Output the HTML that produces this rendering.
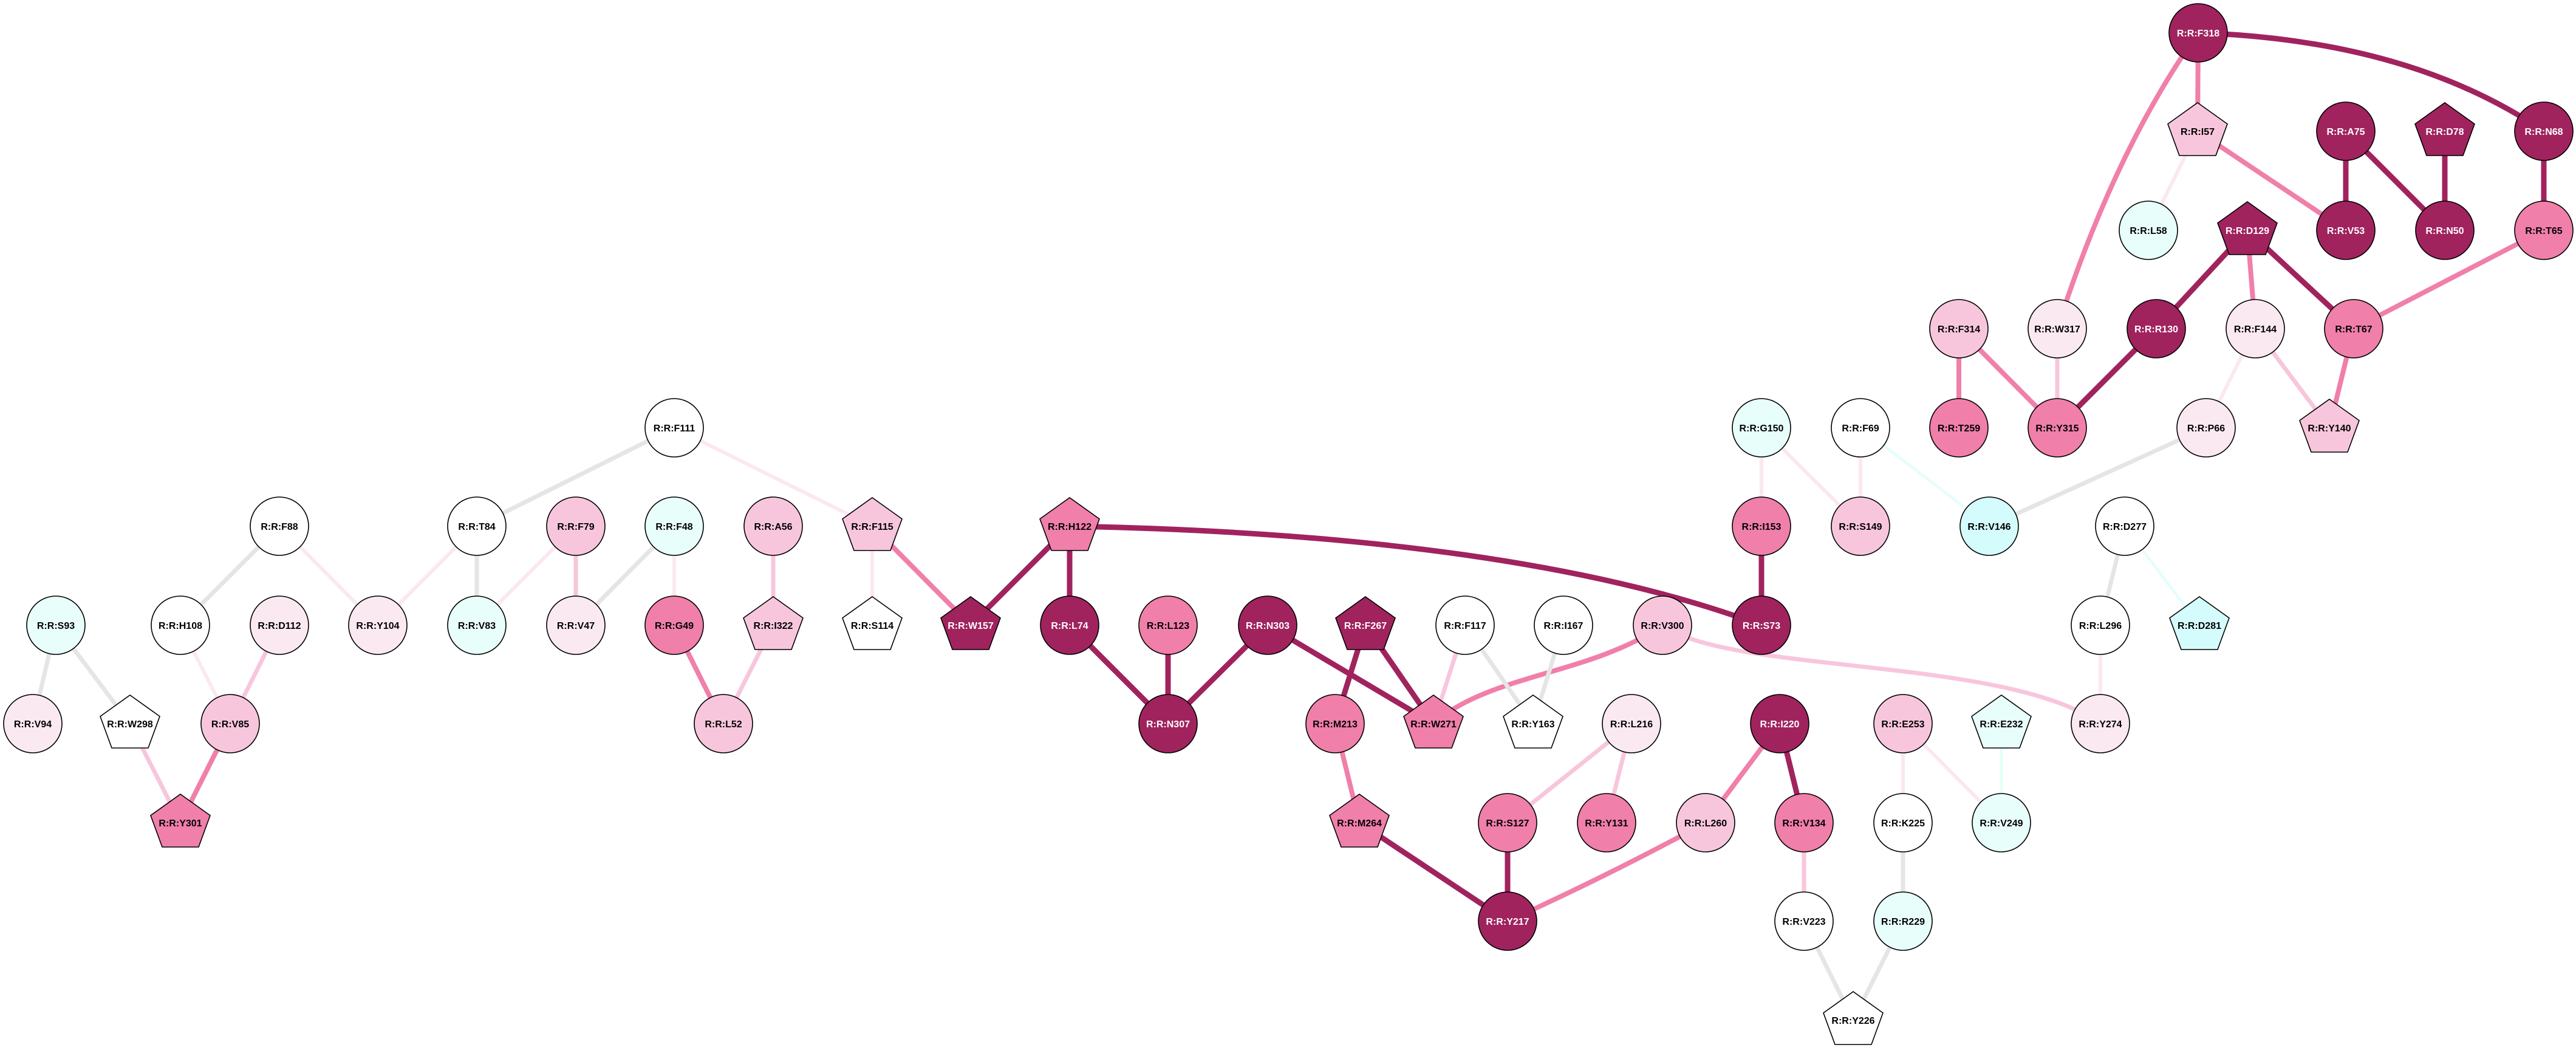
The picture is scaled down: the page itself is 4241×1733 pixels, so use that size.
<!DOCTYPE html>
<html><head><meta charset="utf-8">
<style>
html,body{margin:0;padding:0;background:#fff;}
svg{display:block;}
text{font-family:"Liberation Sans",Arial,sans-serif;font-weight:bold;font-size:16px;text-anchor:middle;fill:#000;}
text.w{fill:#fff;}
.n{stroke:#000;stroke-width:1.6;}
.ed{stroke:#A0235E;stroke-width:9;fill:none;}
.em{stroke:#F07FAA;stroke-width:8;fill:none;}
.el{stroke:#F8C6DC;stroke-width:7;fill:none;}
.ev{stroke:#FBE8F1;stroke-width:6;fill:none;}
.eg{stroke:#E5E5E5;stroke-width:7;fill:none;}
.ec{stroke:#E6FEFB;stroke-width:5;fill:none;}
</style></head><body>
<svg width="4241" height="1733" viewBox="0 0 4241 1733" xmlns="http://www.w3.org/2000/svg">
<defs><polygon id="p" points="0,-47 49,-12 30,40 -30,40 -49,-12"/></defs>
<g>
<line class="em" x1="3619" y1="54" x2="3618" y2="216"/>
<path class="em" d="M3619,54 Q3480,250 3387,541"/>
<path class="ed" d="M3619,54 Q3968,66 4188,216"/>
<line class="ev" x1="3618" y1="216" x2="3537" y2="379"/>
<line class="em" x1="3618" y1="216" x2="3862" y2="379"/>
<line class="ed" x1="3862" y1="216" x2="3862" y2="379"/>
<line class="ed" x1="3862" y1="216" x2="4025" y2="379"/>
<line class="ed" x1="4025" y1="216" x2="4025" y2="379"/>
<line class="ed" x1="4188" y1="216" x2="4188" y2="379"/>
<line class="em" x1="4188" y1="379" x2="3875" y2="541"/>
<line class="ed" x1="3700" y1="379" x2="3550" y2="541"/>
<line class="em" x1="3700" y1="379" x2="3713" y2="541"/>
<line class="ed" x1="3700" y1="379" x2="3875" y2="541"/>
<line class="el" x1="3713" y1="541" x2="3835" y2="704"/>
<line class="ev" x1="3713" y1="541" x2="3632" y2="704"/>
<line class="em" x1="3875" y1="541" x2="3835" y2="704"/>
<line class="em" x1="3225" y1="541" x2="3225" y2="704"/>
<line class="em" x1="3225" y1="541" x2="3387" y2="704"/>
<line class="el" x1="3387" y1="541" x2="3387" y2="704"/>
<line class="ed" x1="3550" y1="541" x2="3387" y2="704"/>
<line class="eg" x1="3632" y1="704" x2="3275" y2="866"/>
<line class="ec" x1="3063" y1="704" x2="3275" y2="866"/>
<line class="ev" x1="3063" y1="704" x2="3063" y2="866"/>
<line class="ev" x1="2900" y1="704" x2="3063" y2="866"/>
<line class="ev" x1="2900" y1="704" x2="2900" y2="866"/>
<line class="ed" x1="2900" y1="866" x2="2900" y2="1029"/>
<path class="ed" d="M1761,866 Q2500,880 2900,1029"/>
<line class="eg" x1="3498" y1="866" x2="3458" y2="1029"/>
<line class="ec" x1="3498" y1="866" x2="3621" y2="1029"/>
<line class="ev" x1="3458" y1="1029" x2="3458" y2="1191"/>
<path class="el" d="M2737,1029 C2850,1110 3300,1080 3458,1191"/>
<path class="em" d="M2737,1029 C2620,1110 2450,1110 2360,1191"/>
<line class="eg" x1="1110" y1="704" x2="785" y2="866"/>
<line class="ev" x1="1110" y1="704" x2="1436" y2="866"/>
<line class="ev" x1="1436" y1="866" x2="1436" y2="1029"/>
<line class="em" x1="1436" y1="866" x2="1598" y2="1029"/>
<line class="ed" x1="1761" y1="866" x2="1598" y2="1029"/>
<line class="ed" x1="1761" y1="866" x2="1761" y2="1029"/>
<line class="ed" x1="1761" y1="1029" x2="1923" y2="1191"/>
<line class="ed" x1="1923" y1="1029" x2="1923" y2="1191"/>
<line class="ed" x1="2087" y1="1029" x2="1923" y2="1191"/>
<line class="ed" x1="2087" y1="1029" x2="2360" y2="1191"/>
<line class="ed" x1="2248" y1="1029" x2="2360" y2="1191"/>
<line class="ed" x1="2248" y1="1029" x2="2198" y2="1191"/>
<line class="el" x1="2412" y1="1029" x2="2360" y2="1191"/>
<line class="eg" x1="2412" y1="1029" x2="2524" y2="1191"/>
<line class="eg" x1="2574" y1="1029" x2="2524" y2="1191"/>
<line class="em" x1="2198" y1="1191" x2="2238" y2="1354"/>
<line class="ed" x1="2238" y1="1354" x2="2482" y2="1516"/>
<line class="el" x1="2686" y1="1191" x2="2482" y2="1354"/>
<line class="el" x1="2686" y1="1191" x2="2645" y2="1354"/>
<line class="ed" x1="2482" y1="1354" x2="2482" y2="1516"/>
<path class="em" d="M2808,1354 Q2650,1440 2482,1516"/>
<line class="em" x1="2930" y1="1191" x2="2808" y2="1354"/>
<line class="ed" x1="2930" y1="1191" x2="2970" y2="1354"/>
<line class="el" x1="2970" y1="1354" x2="2970" y2="1516"/>
<line class="eg" x1="2970" y1="1516" x2="3051" y2="1679"/>
<line class="eg" x1="3133" y1="1516" x2="3051" y2="1679"/>
<line class="eg" x1="3133" y1="1354" x2="3133" y2="1516"/>
<line class="ev" x1="3133" y1="1191" x2="3133" y2="1354"/>
<line class="ev" x1="3133" y1="1191" x2="3295" y2="1354"/>
<line class="ec" x1="3295" y1="1191" x2="3295" y2="1354"/>
<line class="eg" x1="460" y1="866" x2="297" y2="1029"/>
<line class="ev" x1="460" y1="866" x2="622" y2="1029"/>
<line class="ev" x1="785" y1="866" x2="622" y2="1029"/>
<line class="eg" x1="785" y1="866" x2="785" y2="1029"/>
<line class="ev" x1="948" y1="866" x2="785" y2="1029"/>
<line class="el" x1="948" y1="866" x2="948" y2="1029"/>
<line class="eg" x1="1110" y1="866" x2="948" y2="1029"/>
<line class="ev" x1="1110" y1="866" x2="1110" y2="1029"/>
<line class="el" x1="1273" y1="866" x2="1273" y2="1029"/>
<line class="em" x1="1110" y1="1029" x2="1191" y2="1191"/>
<line class="el" x1="1273" y1="1029" x2="1191" y2="1191"/>
<line class="eg" x1="92" y1="1029" x2="54" y2="1191"/>
<line class="eg" x1="92" y1="1029" x2="214" y2="1191"/>
<line class="ev" x1="297" y1="1029" x2="379" y2="1191"/>
<line class="el" x1="460" y1="1029" x2="379" y2="1191"/>
<line class="el" x1="214" y1="1191" x2="297" y2="1354"/>
<line class="em" x1="379" y1="1191" x2="297" y2="1354"/>
</g>
<g>
<circle class="n" cx="3619" cy="54" r="48" fill="#A0235E"/><text class="w" x="3619" y="54" dy="6">R:R:F318</text>
<use class="n" href="#p" x="3618" y="216" fill="#F8C6DC"/><text x="3618" y="216" dy="6">R:R:I57</text>
<circle class="n" cx="3862" cy="216" r="48" fill="#A0235E"/><text class="w" x="3862" y="216" dy="6">R:R:A75</text>
<use class="n" href="#p" x="4025" y="216" fill="#A0235E"/><text class="w" x="4025" y="216" dy="6">R:R:D78</text>
<circle class="n" cx="4188" cy="216" r="48" fill="#A0235E"/><text class="w" x="4188" y="216" dy="6">R:R:N68</text>
<circle class="n" cx="3537" cy="379" r="48" fill="#E8FEFB"/><text x="3537" y="379" dy="6">R:R:L58</text>
<use class="n" href="#p" x="3700" y="379" fill="#A0235E"/><text class="w" x="3700" y="379" dy="6">R:R:D129</text>
<circle class="n" cx="3862" cy="379" r="48" fill="#A0235E"/><text class="w" x="3862" y="379" dy="6">R:R:V53</text>
<circle class="n" cx="4025" cy="379" r="48" fill="#A0235E"/><text class="w" x="4025" y="379" dy="6">R:R:N50</text>
<circle class="n" cx="4188" cy="379" r="48" fill="#F07FAA"/><text x="4188" y="379" dy="6">R:R:T65</text>
<circle class="n" cx="3225" cy="541" r="48" fill="#F8C6DC"/><text x="3225" y="541" dy="6">R:R:F314</text>
<circle class="n" cx="3387" cy="541" r="48" fill="#FBE9F2"/><text x="3387" y="541" dy="6">R:R:W317</text>
<circle class="n" cx="3550" cy="541" r="48" fill="#A0235E"/><text class="w" x="3550" y="541" dy="6">R:R:R130</text>
<circle class="n" cx="3713" cy="541" r="48" fill="#FBE9F2"/><text x="3713" y="541" dy="6">R:R:F144</text>
<circle class="n" cx="3875" cy="541" r="48" fill="#F07FAA"/><text x="3875" y="541" dy="6">R:R:T67</text>
<circle class="n" cx="3225" cy="704" r="48" fill="#F07FAA"/><text x="3225" y="704" dy="6">R:R:T259</text>
<circle class="n" cx="3387" cy="704" r="48" fill="#F07FAA"/><text x="3387" y="704" dy="6">R:R:Y315</text>
<circle class="n" cx="3632" cy="704" r="48" fill="#FBE9F2"/><text x="3632" y="704" dy="6">R:R:P66</text>
<use class="n" href="#p" x="3835" y="704" fill="#F8C6DC"/><text x="3835" y="704" dy="6">R:R:Y140</text>
<circle class="n" cx="2900" cy="704" r="48" fill="#E8FEFB"/><text x="2900" y="704" dy="6">R:R:G150</text>
<circle class="n" cx="3063" cy="704" r="48" fill="#FFFFFF"/><text x="3063" y="704" dy="6">R:R:F69</text>
<circle class="n" cx="2900" cy="866" r="48" fill="#F07FAA"/><text x="2900" y="866" dy="6">R:R:I153</text>
<circle class="n" cx="3063" cy="866" r="48" fill="#F8C6DC"/><text x="3063" y="866" dy="6">R:R:S149</text>
<circle class="n" cx="3275" cy="866" r="48" fill="#D4FCFC"/><text x="3275" y="866" dy="6">R:R:V146</text>
<circle class="n" cx="3498" cy="866" r="48" fill="#FFFFFF"/><text x="3498" y="866" dy="6">R:R:D277</text>
<circle class="n" cx="3458" cy="1029" r="48" fill="#FFFFFF"/><text x="3458" y="1029" dy="6">R:R:L296</text>
<use class="n" href="#p" x="3621" y="1029" fill="#D4FCFC"/><text x="3621" y="1029" dy="6">R:R:D281</text>
<circle class="n" cx="2737" cy="1029" r="48" fill="#F8C6DC"/><text x="2737" y="1029" dy="6">R:R:V300</text>
<circle class="n" cx="2900" cy="1029" r="48" fill="#A0235E"/><text class="w" x="2900" y="1029" dy="6">R:R:S73</text>
<circle class="n" cx="3458" cy="1191" r="48" fill="#FBE9F2"/><text x="3458" y="1191" dy="6">R:R:Y274</text>
<circle class="n" cx="1110" cy="704" r="48" fill="#FFFFFF"/><text x="1110" y="704" dy="6">R:R:F111</text>
<use class="n" href="#p" x="1436" y="866" fill="#F8C6DC"/><text x="1436" y="866" dy="6">R:R:F115</text>
<use class="n" href="#p" x="1436" y="1029" fill="#FFFFFF"/><text x="1436" y="1029" dy="6">R:R:S114</text>
<use class="n" href="#p" x="1598" y="1029" fill="#A0235E"/><text class="w" x="1598" y="1029" dy="6">R:R:W157</text>
<use class="n" href="#p" x="1761" y="866" fill="#F07FAA"/><text x="1761" y="866" dy="6">R:R:H122</text>
<circle class="n" cx="1761" cy="1029" r="48" fill="#A0235E"/><text class="w" x="1761" y="1029" dy="6">R:R:L74</text>
<circle class="n" cx="1923" cy="1029" r="48" fill="#F07FAA"/><text x="1923" y="1029" dy="6">R:R:L123</text>
<circle class="n" cx="2087" cy="1029" r="48" fill="#A0235E"/><text class="w" x="2087" y="1029" dy="6">R:R:N303</text>
<circle class="n" cx="1923" cy="1191" r="48" fill="#A0235E"/><text class="w" x="1923" y="1191" dy="6">R:R:N307</text>
<use class="n" href="#p" x="2248" y="1029" fill="#A0235E"/><text class="w" x="2248" y="1029" dy="6">R:R:F267</text>
<circle class="n" cx="2198" cy="1191" r="48" fill="#F07FAA"/><text x="2198" y="1191" dy="6">R:R:M213</text>
<use class="n" href="#p" x="2238" y="1354" fill="#F07FAA"/><text x="2238" y="1354" dy="6">R:R:M264</text>
<use class="n" href="#p" x="2360" y="1191" fill="#F07FAA"/><text x="2360" y="1191" dy="6">R:R:W271</text>
<circle class="n" cx="2412" cy="1029" r="48" fill="#FFFFFF"/><text x="2412" y="1029" dy="6">R:R:F117</text>
<circle class="n" cx="2574" cy="1029" r="48" fill="#FFFFFF"/><text x="2574" y="1029" dy="6">R:R:I167</text>
<use class="n" href="#p" x="2524" y="1191" fill="#FFFFFF"/><text x="2524" y="1191" dy="6">R:R:Y163</text>
<circle class="n" cx="2686" cy="1191" r="48" fill="#FBE9F2"/><text x="2686" y="1191" dy="6">R:R:L216</text>
<circle class="n" cx="2482" cy="1354" r="48" fill="#F07FAA"/><text x="2482" y="1354" dy="6">R:R:S127</text>
<circle class="n" cx="2645" cy="1354" r="48" fill="#F07FAA"/><text x="2645" y="1354" dy="6">R:R:Y131</text>
<circle class="n" cx="2482" cy="1516" r="48" fill="#A0235E"/><text class="w" x="2482" y="1516" dy="6">R:R:Y217</text>
<circle class="n" cx="2930" cy="1191" r="48" fill="#A0235E"/><text class="w" x="2930" y="1191" dy="6">R:R:I220</text>
<circle class="n" cx="2808" cy="1354" r="48" fill="#F8C6DC"/><text x="2808" y="1354" dy="6">R:R:L260</text>
<circle class="n" cx="2970" cy="1354" r="48" fill="#F07FAA"/><text x="2970" y="1354" dy="6">R:R:V134</text>
<circle class="n" cx="2970" cy="1516" r="48" fill="#FFFFFF"/><text x="2970" y="1516" dy="6">R:R:V223</text>
<circle class="n" cx="3133" cy="1191" r="48" fill="#F8C6DC"/><text x="3133" y="1191" dy="6">R:R:E253</text>
<use class="n" href="#p" x="3295" y="1191" fill="#E8FEFB"/><text x="3295" y="1191" dy="6">R:R:E232</text>
<circle class="n" cx="3133" cy="1354" r="48" fill="#FFFFFF"/><text x="3133" y="1354" dy="6">R:R:K225</text>
<circle class="n" cx="3295" cy="1354" r="48" fill="#E8FEFB"/><text x="3295" y="1354" dy="6">R:R:V249</text>
<circle class="n" cx="3133" cy="1516" r="48" fill="#E8FEFB"/><text x="3133" y="1516" dy="6">R:R:R229</text>
<use class="n" href="#p" x="3051" y="1679" fill="#FFFFFF"/><text x="3051" y="1679" dy="6">R:R:Y226</text>
<circle class="n" cx="460" cy="866" r="48" fill="#FFFFFF"/><text x="460" y="866" dy="6">R:R:F88</text>
<circle class="n" cx="785" cy="866" r="48" fill="#FFFFFF"/><text x="785" y="866" dy="6">R:R:T84</text>
<circle class="n" cx="948" cy="866" r="48" fill="#F8C6DC"/><text x="948" y="866" dy="6">R:R:F79</text>
<circle class="n" cx="1110" cy="866" r="48" fill="#E8FEFB"/><text x="1110" y="866" dy="6">R:R:F48</text>
<circle class="n" cx="1273" cy="866" r="48" fill="#F8C6DC"/><text x="1273" y="866" dy="6">R:R:A56</text>
<circle class="n" cx="92" cy="1029" r="48" fill="#E8FEFB"/><text x="92" y="1029" dy="6">R:R:S93</text>
<circle class="n" cx="297" cy="1029" r="48" fill="#FFFFFF"/><text x="297" y="1029" dy="6">R:R:H108</text>
<circle class="n" cx="460" cy="1029" r="48" fill="#FBE9F2"/><text x="460" y="1029" dy="6">R:R:D112</text>
<circle class="n" cx="622" cy="1029" r="48" fill="#FBE9F2"/><text x="622" y="1029" dy="6">R:R:Y104</text>
<circle class="n" cx="785" cy="1029" r="48" fill="#E8FEFB"/><text x="785" y="1029" dy="6">R:R:V83</text>
<circle class="n" cx="948" cy="1029" r="48" fill="#FBE9F2"/><text x="948" y="1029" dy="6">R:R:V47</text>
<circle class="n" cx="1110" cy="1029" r="48" fill="#F07FAA"/><text x="1110" y="1029" dy="6">R:R:G49</text>
<use class="n" href="#p" x="1273" y="1029" fill="#F8C6DC"/><text x="1273" y="1029" dy="6">R:R:I322</text>
<circle class="n" cx="54" cy="1191" r="48" fill="#FBE9F2"/><text x="54" y="1191" dy="6">R:R:V94</text>
<use class="n" href="#p" x="214" y="1191" fill="#FFFFFF"/><text x="214" y="1191" dy="6">R:R:W298</text>
<circle class="n" cx="379" cy="1191" r="48" fill="#F8C6DC"/><text x="379" y="1191" dy="6">R:R:V85</text>
<use class="n" href="#p" x="297" y="1354" fill="#F07FAA"/><text x="297" y="1354" dy="6">R:R:Y301</text>
<circle class="n" cx="1191" cy="1191" r="48" fill="#F8C6DC"/><text x="1191" y="1191" dy="6">R:R:L52</text>
</g>
</svg>
</body></html>
